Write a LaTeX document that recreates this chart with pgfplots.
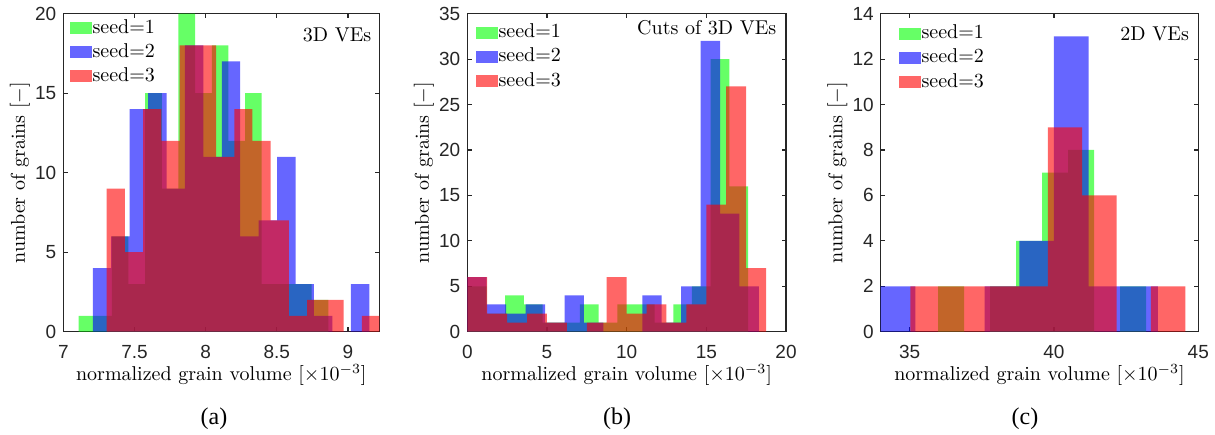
\documentclass[border=0pt]{standalone}
\usepackage{fontspec}
\usepackage{pgfplots}
\pgfplotsset{compat=1.18}
\newfontfamily\tickfont{Liberation Sans}
\newfontfamily\capfont{Liberation Serif}
\definecolor{axgray}{RGB}{38,38,38}

\pgfplotsset{
  hist/.style={
    scale only axis, height=159pt, ymin=0,
    axis line style={axgray, line width=0.7pt},
    major tick style={axgray, line width=0.6pt},
    major tick length=2.2pt, tick align=inside,
    ticklabel style={font=\tickfont\fontsize{9.5}{11}\selectfont, text=axgray},
    xticklabel style={yshift=-3.2pt},
    /pgf/number format/assume math mode=true,
    label style={font=\fontsize{9.5}{11}\selectfont},
    every axis x label/.style={at={(rel axis cs:0.5,0)}, yshift=-21.7pt, anchor=center},
    every axis y label/.style={at={(rel axis cs:0,0.5)}, xshift=-21.7pt, rotate=90, anchor=center},
    xlabel={normalized grain volume $[\times 10^{-3}]$},
    ylabel={number of grains $[-]$},
    legend cell align=left,
    legend style={draw=none, fill=none, inner sep=0pt, outer sep=0pt, anchor=north west,
      font=\fontsize{10}{12}\selectfont, row sep=-1.9pt, column sep=0pt,
      nodes={inner sep=0pt, inner xsep=0.3pt, text height=7pt, text depth=2pt}},
  },
  % swatch centred on the row line, invisible strut fixes the row height to 14pt
  sw/.style={legend image code/.code={\fill[##1] (0pt,-3pt) rectangle (11pt,3pt);
      \path (0pt,-7pt) (0pt,7pt);}},
  gbar/.style={ybar interval, fill=green, fill opacity=0.6, draw=none, sw},
  bbar/.style={ybar interval, fill=blue, fill opacity=0.6, draw=none, sw},
  rbar/.style={ybar interval, fill=red, fill opacity=0.6, draw=none, sw},
}

\begin{document}
\begin{tikzpicture}
\path[use as bounding box] (0,0) rectangle (607.5pt,217pt);

% (a) 3D VEs
\begin{axis}[hist, at={(31.65pt,51.15pt)}, width=158pt,
  xmin=7, xmax=9.22, ymax=20,
  xtick={7,7.5,8,8.5,9}, ytick={0,5,10,15,20},
  legend style={at={(axis description cs:0.0212,0.999)}}]
\addplot[gbar] coordinates {
  (7.107,1) (7.224,1) (7.341,6) (7.458,3) (7.575,15) (7.692,9) (7.809,20) (7.926,15)
  (8.043,18) (8.160,12) (8.277,15) (8.394,3) (8.511,3) (8.628,3) (8.745,2) (8.862,0)};
\addplot[bbar] coordinates {
  (7.207,4) (7.3365,6) (7.466,14) (7.5955,15) (7.725,9) (7.8545,18) (7.984,11) (8.1135,17)
  (8.243,6) (8.3725,7) (8.502,11) (8.6315,3) (8.761,1) (8.8905,0) (9.020,3) (9.1495,0)};
\addplot[rbar] coordinates {
  (7.305,9) (7.433,5) (7.561,14) (7.689,12) (7.817,18) (7.945,18) (8.073,11) (8.201,14)
  (8.329,12) (8.457,7) (8.585,1) (8.713,2) (8.841,2) (8.969,0) (9.097,1) (9.225,0)};
\addlegendentry{seed=1}
\addlegendentry{seed=2}
\addlegendentry{seed=3}
\node[anchor=east, inner sep=0pt, font=\fontsize{10}{12}\selectfont, xshift=-3.8pt, yshift=-10.75pt]
  at (rel axis cs:1,1) {3D VEs};
\end{axis}

% (b) Cuts of 3D VEs
\begin{axis}[hist, at={(233.65pt,51.15pt)}, width=159.35pt,
  xmin=0, xmax=20, ymax=35,
  xtick={0,5,10,15,20}, ytick={0,5,...,35},
  legend style={at={(axis description cs:0.0273,0.984)}}]
\addplot[gbar] coordinates {
  (0.036,5) (1.208,2) (2.380,4) (3.552,3) (4.724,1) (5.896,1) (7.068,3) (8.240,1)
  (9.412,3) (10.584,3) (11.756,1) (12.928,3) (14.100,5) (15.272,30) (16.444,16) (17.616,0)};
\addplot[bbar] coordinates {
  (0,6) (1.22,3) (2.44,2) (3.66,3) (4.88,1) (6.10,4) (7.32,1) (8.54,0)
  (9.76,0) (10.98,4) (12.20,1) (13.42,5) (14.64,32) (15.86,13) (17.08,5) (18.30,0)};
\addplot[rbar] coordinates {
  (0,6) (1.25,2) (2.5,1) (3.75,2) (5,1) (6.25,0) (7.5,1) (8.75,6)
  (10,2) (11.25,3) (12.5,1) (13.75,3) (15,14) (16.25,27) (17.5,7) (18.75,0)};
\addlegendentry{seed=1}
\addlegendentry{seed=2}
\addlegendentry{seed=3}
\node[anchor=east, inner sep=0pt, font=\fontsize{10}{12}\selectfont, xshift=-4.65pt, yshift=-6.85pt]
  at (rel axis cs:1,1) {Cuts of 3D VEs};
\end{axis}

% (c) 2D VEs
\begin{axis}[hist, at={(440.35pt,51.15pt)}, width=158.8pt,
  xmin=34, xmax=45, ymax=14,
  xtick={35,40,45}, ytick={0,2,...,14},
  legend style={at={(axis description cs:0.0576,0.981)}}]
\addplot[gbar] coordinates {
  (35.99,2) (36.89,0) (37.79,2) (38.69,4) (39.59,7) (40.49,8) (41.39,0) (42.29,2) (43.19,0)};
\addplot[bbar] coordinates {
  (34.0,2) (35.2,0) (36.4,0) (37.6,2) (38.8,4) (40.0,13) (41.2,2) (42.4,2) (43.6,0)};
\addplot[rbar] coordinates {
  (35.03,2) (36.22,2) (37.41,2) (38.60,2) (39.79,9) (40.98,6) (42.17,0) (43.36,2) (44.55,0)};
\addlegendentry{seed=1}
\addlegendentry{seed=2}
\addlegendentry{seed=3}
\node[anchor=east, inner sep=0pt, font=\fontsize{10}{12}\selectfont, xshift=-4.5pt, yshift=-10pt]
  at (rel axis cs:1,1) {2D VEs};
\end{axis}

\node[font=\capfont\fontsize{12}{14}\selectfont] at (107pt,7.5pt) {(a)};
\node[font=\capfont\fontsize{12}{14}\selectfont] at (308.5pt,7.5pt) {(b)};
\node[font=\capfont\fontsize{12}{14}\selectfont] at (512.5pt,7.5pt) {(c)};
\end{tikzpicture}
\end{document}
